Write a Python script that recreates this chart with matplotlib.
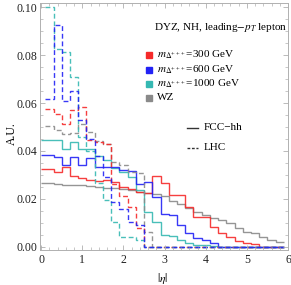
import matplotlib
matplotlib.use("Agg")
import matplotlib.pyplot as plt
from matplotlib.ticker import MultipleLocator, FormatStrFormatter

plt.rcParams['font.family'] = ['Liberation Serif', 'DejaVu Serif']
plt.rcParams['mathtext.fontset'] = 'stix'

# bin edges in |eta| (LHC curves start at 0.1, FCC-hh curves start at 0)
eta_edges = [0.1, 0.3, 0.5, 0.7, 0.9, 1.1, 1.3, 1.5, 1.7, 1.9, 2.1, 2.3, 2.5, 2.7, 2.9,
             3.1, 3.3, 3.5, 3.7, 3.9, 4.1, 4.3, 4.5, 4.7, 4.9, 5.1, 5.3, 5.5, 5.7, 5.9]

# FCC-hh (solid)
fcc_300 = [0.0323, 0.0313, 0.0333, 0.0295, 0.0288, 0.0280, 0.0275, 0.0280, 0.0270, 0.0250,
           0.0240, 0.0230, 0.0225, 0.0295, 0.0265, 0.0215, 0.0215, 0.0165, 0.0125, 0.0122,
           0.0083, 0.0055, 0.0040, 0.0025, 0.0015, 0.0012, 0.0, 0.0, 0.0]
fcc_600 = [0.0385, 0.0375, 0.0340, 0.0375, 0.0340, 0.0370, 0.0334, 0.0334, 0.0334, 0.0320,
           0.0316, 0.0260, 0.0270, 0.0206, 0.0136, 0.0132, 0.0090, 0.0056, 0.0035, 0.0028,
           0.0015, 0.0, 0.0, 0.0, 0.0, 0.0, 0.0, 0.0, 0.0]
fcc_1000 = [0.0445, 0.0445, 0.0410, 0.0438, 0.0410, 0.0410, 0.0380, 0.0360, 0.0330, 0.0310,
            0.0290, 0.0237, 0.0146, 0.0104, 0.0049, 0.0045, 0.0027, 0.0014, 0.0008, 0.0007,
            0.0004, 0.0, 0.0, 0.0, 0.0, 0.0, 0.0, 0.0, 0.0]
fcc_wz = [0.0267, 0.0262, 0.0258, 0.0257, 0.0256, 0.0255, 0.0250, 0.0247, 0.0243, 0.0240,
          0.0235, 0.0230, 0.0225, 0.0222, 0.0210, 0.0190, 0.0180, 0.0160, 0.0146, 0.0132,
          0.0120, 0.0110, 0.0098, 0.0077, 0.0063, 0.0056, 0.0042, 0.0028, 0.0021]

# LHC (dashed)
lhc_300 = [0.0577, 0.0556, 0.0511, 0.0570, 0.0584, 0.0445, 0.0437, 0.0430, 0.0260, 0.0210,
           0.0167, 0.0078, 0.0, 0.0, 0.0, 0.0, 0.0, 0.0, 0.0, 0.0,
           0.0, 0.0, 0.0, 0.0, 0.0, 0.0, 0.0, 0.0, 0.0]
lhc_600 = [0.0617, 0.0928, 0.0610, 0.0650, 0.0530, 0.0450, 0.0380, 0.0290, 0.0185, 0.0158,
           0.0104, 0.0090, 0.0, 0.0, 0.0, 0.0, 0.0, 0.0, 0.0, 0.0,
           0.0, 0.0, 0.0, 0.0, 0.0, 0.0, 0.0, 0.0, 0.0]
lhc_1000 = [0.1000, 0.0824, 0.0815, 0.0710, 0.0460, 0.0400, 0.0265, 0.0195, 0.0104, 0.0042,
            0.0042, 0.0028, 0.0, 0.0, 0.0, 0.0, 0.0, 0.0, 0.0, 0.0,
            0.0, 0.0, 0.0, 0.0, 0.0, 0.0, 0.0, 0.0, 0.0]
lhc_wz = [0.0505, 0.0487, 0.0469, 0.0473, 0.0512, 0.0480, 0.0440, 0.0430, 0.0355, 0.0340,
          0.0310, 0.0306, 0.0060, 0.0, 0.0, 0.0, 0.0, 0.0, 0.0, 0.0,
          0.0, 0.0, 0.0, 0.0, 0.0, 0.0, 0.0, 0.0, 0.0]

labels = [r'$m_{\Delta^{+++}}$=300 GeV', r'$m_{\Delta^{+++}}$=600 GeV',
          r'$m_{\Delta^{+++}}$=1000 GeV', 'WZ']
colors = ['#f52a2a', '#2222f5', '#35b8b2', '#8a8a8a']

fig = plt.figure(figsize=(2.91, 2.85), dpi=100)
ax = fig.add_axes([40 / 291, 35 / 285, 248 / 291, 247 / 285])

fcc_edges = [0.0] + eta_edges[1:]
for vals, c in zip([fcc_wz, fcc_300, fcc_1000, fcc_600], [colors[3], colors[0], colors[2], colors[1]]):
    ax.stairs(vals, fcc_edges, baseline=None, color=c, lw=1.0, alpha=0.9)
for vals, c in zip([lhc_wz, lhc_300, lhc_1000, lhc_600], [colors[3], colors[0], colors[2], colors[1]]):
    ax.stairs(vals, eta_edges, baseline=None, color=c, lw=1.0, alpha=0.9,
              linestyle=(0, (3.5, 2)))

ax.set_xlim(-0.03, 6.0)
ax.set_ylim(-0.0014, 0.1018)
ax.xaxis.set_major_locator(MultipleLocator(1))
ax.xaxis.set_minor_locator(MultipleLocator(0.2))
ax.yaxis.set_major_locator(MultipleLocator(0.02))
ax.yaxis.set_minor_locator(MultipleLocator(0.005))
ax.yaxis.set_major_formatter(FormatStrFormatter('%.2f'))
ax.tick_params(which='both', direction='in', top=True, right=True, color='#b0b0b0',
               labelsize=8.5, labelcolor='#222222')
ax.tick_params(which='major', length=3.5, width=0.6)
ax.tick_params(which='minor', length=2, width=0.5)
ax.tick_params(axis='y', pad=2)
ax.tick_params(axis='x', pad=3)
for s in ax.spines.values():
    s.set_color('#b0b0b0')
    s.set_linewidth(0.7)

fig.text(12 / 291, 1 - 134 / 285, 'A.U.', rotation=90, ha='center', va='center', fontsize=8.5)
fig.text(163 / 291, 1 - 278 / 285, r'$|\eta|$', ha='center', va='center', fontsize=8.5)

# legend block
def ax_xy(px, py):
    return (px - 40) / 248, (250 - py) / 247

tx, ty = ax_xy(221, 28)
ax.text(tx, ty, 'DYZ, NH, leading$-p_T$ lepton', transform=ax.transAxes,
        ha='center', va='center', fontsize=8)
for i, (lab, c) in enumerate(zip(labels, colors)):
    py = [55, 69.5, 83.5, 98][i]
    mx, my = ax_xy(149, py)
    ax.plot([mx], [my], marker='s', ms=5, color=c, mec=c, transform=ax.transAxes, clip_on=False)
    lx, ly = ax_xy(157, py)
    ax.text(lx, ly, lab, transform=ax.transAxes, ha='left', va='center', fontsize=8)

for py, ls, lab in [(127.7, '-', 'FCC\u2212hh'), (148, (0, (2, 1.2)), 'LHC')]:
    x0, y0 = ax_xy(187, py)
    x1, _ = ax_xy(198, py)
    ax.plot([x0, x1], [y0, y0], color='#333333', lw=1.0, linestyle=ls, transform=ax.transAxes)
    lx, _ = ax_xy(204, py)
    ax.text(lx, y0, lab, transform=ax.transAxes, ha='left', va='center', fontsize=8)

fig.savefig('out.png', dpi=100)
